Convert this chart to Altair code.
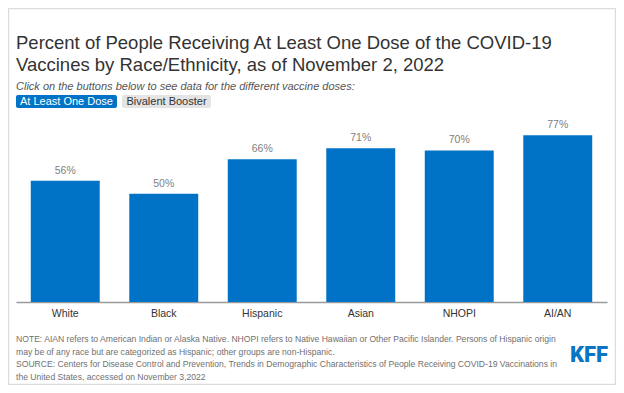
import altair as alt
import pandas as pd

# ---- data ----
categories = ["White", "Black", "Hispanic", "Asian", "NHOPI", "AI/AN"]
values = [56, 50, 66, 71, 70, 77]

title_lines = [
    "Percent of People Receiving At Least One Dose of the COVID-19",
    "Vaccines by Race/Ethnicity, as of November 2, 2022",
]
subtitle_text = "Click on the buttons below to see data for the different vaccine doses:"
button_labels = ["At Least One Dose", "Bivalent Booster"]
note_lines = [
    "NOTE: AIAN refers to American Indian or Alaska Native. NHOPI refers to Native Hawaiian or Other Pacific Islander. Persons of Hispanic origin",
    "may be of any race but are categorized as Hispanic; other groups are non-Hispanic.",
    "SOURCE: Centers for Disease Control and Prevention, Trends in Demographic Characteristics of People Receiving COVID-19 Vaccinations in",
    "the United States, accessed on November 3,2022",
]
logo_text = "KFF"

df = pd.DataFrame({"group": categories, "value": values})
df["label"] = df["value"].astype(str) + "%"

FONT = "Liberation Sans"
BLUE = "#0173C6"
W, H = 591, 184

x_enc = alt.X(
    "group:N",
    sort=categories,
    scale=alt.Scale(paddingInner=0.3, paddingOuter=0.15),
    axis=alt.Axis(
        title=None, labelAngle=0, ticks=False, labelFontSize=10.5,
        labelColor="#333333", labelFont=FONT, labelPadding=6,
        domainColor="#9a9a9a", domainWidth=1.5,
    ),
)
y_enc = alt.Y("value:Q", scale=alt.Scale(domain=[0, 85]), axis=None)

base = alt.Chart(df)
bars = base.mark_bar(color=BLUE).encode(x=x_enc, y=y_enc)
labels = base.mark_text(
    baseline="bottom", dy=-5, fontSize=10.5, color="#808080", font=FONT
).encode(x=x_enc, y=y_enc, text="label:N")

one = alt.Data(values=[{}])

border = alt.Chart(one).mark_rect(
    fill=None, stroke="#dcdcdc", strokeWidth=1.5
).encode(
    x=alt.value(-7.5), x2=alt.value(599.5),
    y=alt.value(-109.5), y2=alt.value(266.5),
)

title = alt.Chart(one).mark_text(
    align="left", baseline="alphabetic", fontSize=18.5, lineHeight=21.5,
    color="#333333", font=FONT,
).encode(x=alt.value(0), y=alt.value(-69), text=alt.value(title_lines))

subtitle = alt.Chart(one).mark_text(
    align="left", baseline="alphabetic", fontSize=11, fontStyle="italic",
    color="#555555", font=FONT,
).encode(x=alt.value(0), y=alt.value(-28), text=alt.value(subtitle_text))

btn1 = alt.Chart(one).mark_rect(fill=BLUE, cornerRadius=2).encode(
    x=alt.value(0), x2=alt.value(101), y=alt.value(-23), y2=alt.value(-10)
)
btn1_t = alt.Chart(one).mark_text(
    color="white", fontSize=11, font=FONT, align="center", baseline="middle"
).encode(x=alt.value(50.5), y=alt.value(-16.2), text=alt.value(button_labels[0]))
btn2 = alt.Chart(one).mark_rect(fill="#e4e4e4", cornerRadius=2).encode(
    x=alt.value(106), x2=alt.value(195), y=alt.value(-23), y2=alt.value(-10)
)
btn2_t = alt.Chart(one).mark_text(
    color="#333333", fontSize=11, font=FONT, align="center", baseline="middle"
).encode(x=alt.value(150.5), y=alt.value(-16.2), text=alt.value(button_labels[1]))

notes = alt.Chart(one).mark_text(
    align="left", baseline="alphabetic", fontSize=8.6, lineHeight=12.5,
    color="#707070", font=FONT,
).encode(x=alt.value(0), y=alt.value(224), text=alt.value(note_lines))

logo = alt.Chart(one).mark_text(
    align="left", baseline="alphabetic", fontSize=22, fontWeight=900,
    color="#0A74C5", font="Roboto",
).encode(x=alt.value(554), y=alt.value(244), text=alt.value(logo_text))

chart = alt.layer(
    border, title, subtitle, bars, labels, btn1, btn1_t, btn2, btn2_t, notes, logo
).properties(
    width=W, height=H,
    autosize=alt.AutoSizeParams(type="none"),
    padding={"left": 8, "right": 9, "top": 110, "bottom": 83},
    background="white",
).configure_view(stroke=None)

chart.save("out.html", embed_options={"renderer": "svg", "actions": False})
